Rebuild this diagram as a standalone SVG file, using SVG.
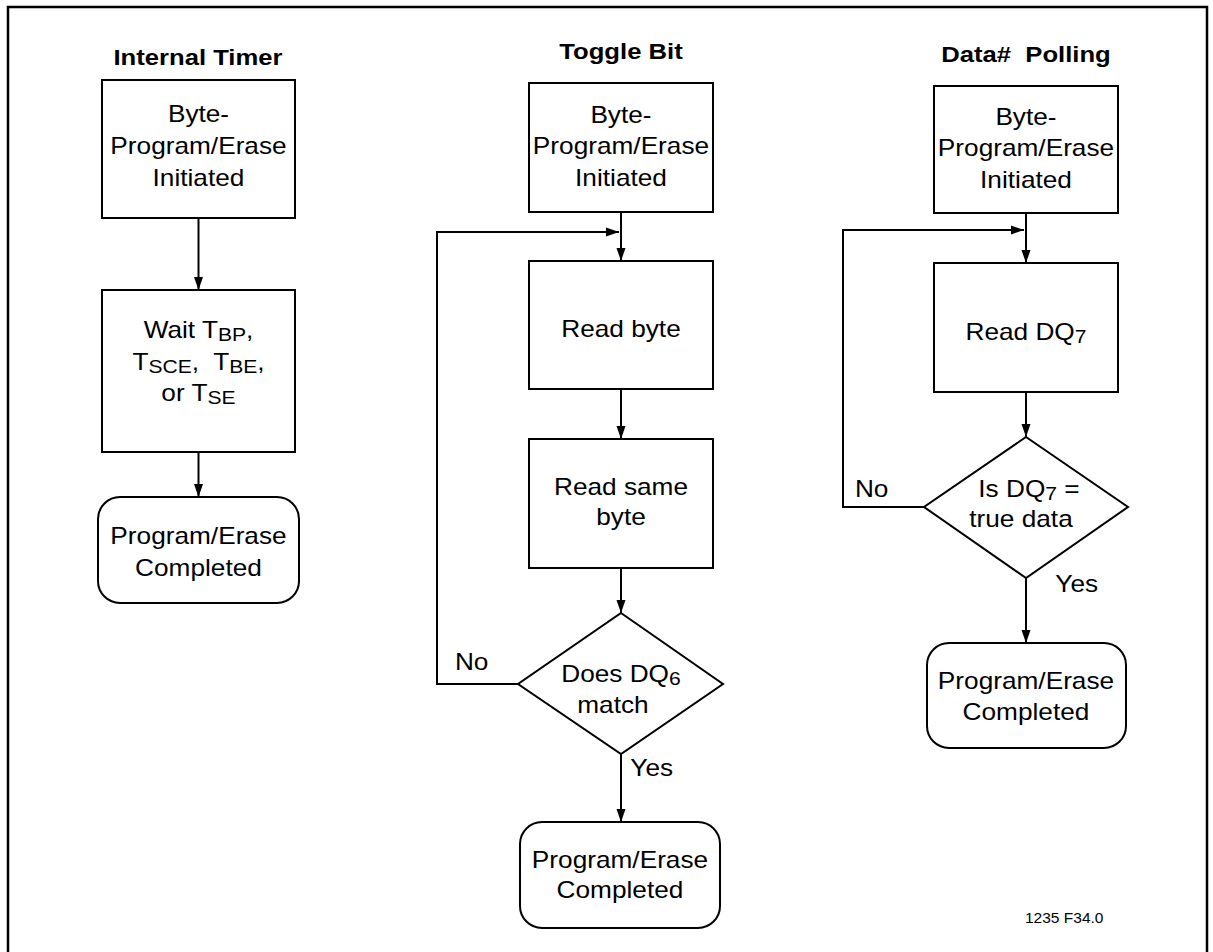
<svg xmlns="http://www.w3.org/2000/svg" width="1213" height="952" viewBox="0 0 1213 952">
<style>
text{font-family:"Liberation Sans",Arial,sans-serif;font-size:23px;fill:#000;text-anchor:middle;transform-box:fill-box;transform-origin:center;transform:scaleX(1.14)}
.t{font-weight:bold;font-size:22.5px}
.l{text-anchor:start}
.f{font-size:15.5px;transform:none;text-anchor:start}
.s{font-size:18.5px}
.box{fill:#fff;stroke:#000;stroke-width:2}
.c{fill:none;stroke:#000;stroke-width:2}
</style>
<defs>
<marker id="ah" markerUnits="userSpaceOnUse" markerWidth="14" markerHeight="10" refX="13" refY="5" orient="auto"><path d="M0,0.5 L13,5 L0,9.5 z" fill="#000"/></marker>
</defs>
<rect x="8" y="7" width="1199" height="970" fill="#fff" stroke="#000" stroke-width="2.5"/>

<g id="titles">
<text class="t" x="198" y="65">Internal Timer</text>
<text class="t" x="621" y="59">Toggle Bit</text>
<text class="t" x="1026" y="62">Data#&#160; Polling</text>
</g>

<g id="connectors">
<line class="c" x1="198.5" y1="218" x2="198.5" y2="290" marker-end="url(#ah)"/>
<line class="c" x1="198.5" y1="452" x2="198.5" y2="497" marker-end="url(#ah)"/>
<line class="c" x1="621" y1="212" x2="621" y2="261" marker-end="url(#ah)"/>
<polyline class="c" points="518,684 437,684 437,232 619,232" marker-end="url(#ah)"/>
<line class="c" x1="621" y1="389" x2="621" y2="439" marker-end="url(#ah)"/>
<line class="c" x1="621" y1="568" x2="621" y2="613" marker-end="url(#ah)"/>
<line class="c" x1="621" y1="754" x2="621" y2="822" marker-end="url(#ah)"/>
<line class="c" x1="1026" y1="213" x2="1026" y2="263" marker-end="url(#ah)"/>
<polyline class="c" points="924,507 843,507 843,230 1024,230" marker-end="url(#ah)"/>
<line class="c" x1="1026" y1="392" x2="1026" y2="437" marker-end="url(#ah)"/>
<line class="c" x1="1026" y1="578" x2="1026" y2="643" marker-end="url(#ah)"/>
<text class="l" x="457" y="670">No</text>
<text class="l" x="633" y="776">Yes</text>
<text class="l" x="857" y="497">No</text>
<text class="l" x="1058" y="592">Yes</text>
</g>

<g id="it-start">
<rect class="box" x="102" y="80" width="193" height="138"/>
<text x="198.5" y="122">Byte-</text>
<text x="198.5" y="154">Program/Erase</text>
<text x="198.5" y="186">Initiated</text>
</g>
<g id="it-wait">
<rect class="box" x="102" y="290" width="193" height="162"/>
<text x="198.5" y="338">Wait T<tspan class="s" dy="3">BP</tspan><tspan dy="-3">,</tspan></text>
<text x="198.5" y="370">T<tspan class="s" dy="3">SCE</tspan><tspan dy="-3">,&#160; T</tspan><tspan class="s" dy="3">BE</tspan><tspan dy="-3">,</tspan></text>
<text x="198.5" y="401">or T<tspan class="s" dy="3">SE</tspan></text>
</g>
<g id="it-done">
<rect class="box" x="98" y="497" width="201" height="106" rx="22"/>
<text x="198.5" y="544">Program/Erase</text>
<text x="198.5" y="576">Completed</text>
</g>

<g id="tb-start">
<rect class="box" x="529" y="83" width="184" height="129"/>
<text x="621" y="123">Byte-</text>
<text x="621" y="154">Program/Erase</text>
<text x="621" y="186">Initiated</text>
</g>
<g id="tb-read">
<rect class="box" x="529" y="261" width="184" height="128"/>
<text x="621" y="337">Read byte</text>
</g>
<g id="tb-read2">
<rect class="box" x="529" y="439" width="184" height="129"/>
<text x="621" y="495">Read same</text>
<text x="621" y="525">byte</text>
</g>
<g id="tb-dec">
<polygon class="box" points="621,613 723,684 621,754 518,684"/>
<text x="621" y="682">Does DQ<tspan class="s" dy="3">6</tspan></text>
<text x="613" y="713">match</text>
</g>
<g id="tb-done">
<rect class="box" x="520" y="822" width="200" height="106" rx="22"/>
<text x="620" y="868">Program/Erase</text>
<text x="620" y="898">Completed</text>
</g>

<g id="dp-start">
<rect class="box" x="934" y="86" width="184" height="127"/>
<text x="1026" y="125">Byte-</text>
<text x="1026" y="156">Program/Erase</text>
<text x="1026" y="188">Initiated</text>
</g>
<g id="dp-read">
<rect class="box" x="934" y="263" width="184" height="129"/>
<text x="1026" y="340">Read DQ<tspan class="s" dy="3">7</tspan></text>
</g>
<g id="dp-dec">
<polygon class="box" points="1026,437 1128,507 1026,578 924,507"/>
<text x="1029" y="497">Is DQ<tspan class="s" dy="3">7</tspan><tspan dy="-3"> =</tspan></text>
<text x="1021" y="527">true data</text>
</g>
<g id="dp-done">
<rect class="box" x="927" y="643" width="199" height="105" rx="22"/>
<text x="1026" y="689">Program/Erase</text>
<text x="1026" y="720">Completed</text>
</g>

<text class="f" x="1025" y="923">1235 F34.0</text>
</svg>
